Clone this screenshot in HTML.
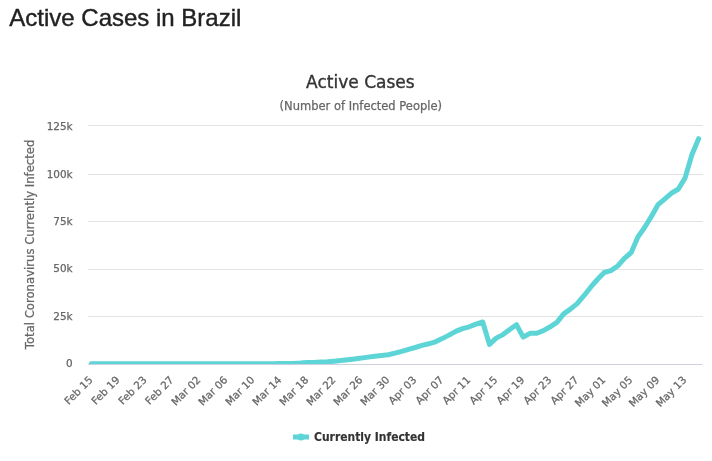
<!DOCTYPE html>
<html><head><meta charset="utf-8"><title>Active Cases in Brazil</title>
<style>
html,body{margin:0;padding:0;background:#fff;}
body{width:712px;height:461px;position:relative;overflow:hidden;font-family:"Liberation Sans",sans-serif;}
h3{position:absolute;left:9.3px;top:0.4px;margin:0;font-size:24px;line-height:36px;font-weight:normal;color:#222;white-space:nowrap;-webkit-text-stroke:0.4px #222;}
</style></head><body>
<h3>Active Cases in Brazil</h3>
<svg width="712" height="461" viewBox="0 0 712 461" style="position:absolute;left:0;top:0">
<defs><clipPath id="pc"><rect x="88" y="120" width="615" height="244"/></clipPath></defs>
<path d="M88 125.5 H703" stroke="#e3e3e3" stroke-width="1" fill="none"/>
<path d="M88 174.5 H703" stroke="#e3e3e3" stroke-width="1" fill="none"/>
<path d="M88 221.5 H703" stroke="#e3e3e3" stroke-width="1" fill="none"/>
<path d="M88 269.5 H703" stroke="#e3e3e3" stroke-width="1" fill="none"/>
<path d="M88 316.5 H703" stroke="#e3e3e3" stroke-width="1" fill="none"/>
<path d="M88 364.5 H702.5" stroke="#cbd0dc" stroke-width="1" fill="none"/>
<g clip-path="url(#pc)"><path d="M91.4 363.8 L98.1 363.8 L104.9 363.8 L111.6 363.8 L118.4 363.8 L125.1 363.8 L131.9 363.8 L138.6 363.8 L145.4 363.8 L152.1 363.8 L158.8 363.8 L165.6 363.8 L172.3 363.8 L179.1 363.8 L185.8 363.8 L192.6 363.8 L199.3 363.8 L206.1 363.8 L212.8 363.8 L219.6 363.8 L226.3 363.8 L233.1 363.8 L239.8 363.8 L246.6 363.8 L253.3 363.7 L260.1 363.7 L266.8 363.7 L273.5 363.7 L280.3 363.5 L287.0 363.4 L293.8 363.4 L300.5 363.1 L307.3 362.6 L314.0 362.6 L320.8 362.1 L327.5 361.8 L334.3 361.2 L341.0 360.5 L347.8 359.7 L354.5 358.9 L361.3 358.1 L368.0 357.1 L374.8 356.2 L381.5 355.4 L388.3 354.7 L395.0 353.1 L401.7 351.3 L408.5 349.3 L415.2 347.5 L422.0 345.4 L428.7 343.8 L435.5 341.8 L442.2 338.6 L449.0 335.1 L455.7 331.4 L462.5 328.6 L469.2 326.8 L476.0 324.1 L482.7 322.0 L489.5 344.4 L496.2 338.1 L503.0 334.6 L509.7 329.5 L516.5 324.7 L523.2 337.1 L529.9 333.3 L536.7 333.3 L543.4 330.6 L550.2 326.8 L556.9 322.4 L563.7 313.9 L570.4 309.1 L577.2 303.6 L583.9 295.7 L590.7 287.2 L597.4 279.5 L604.2 272.5 L610.9 270.6 L617.7 266.0 L624.4 258.4 L631.2 252.5 L637.9 237.0 L644.6 227.5 L651.4 216.4 L658.1 204.6 L664.9 198.9 L671.6 193.2 L678.4 189.0 L685.1 177.9 L691.9 154.7 L698.6 138.7" fill="none" stroke="#5dd5d6" stroke-width="5" stroke-linejoin="round" stroke-linecap="round"/></g>
<g font-family="'DejaVu Sans', 'Liberation Sans', sans-serif" fill="#666666" stroke="#666666" stroke-width="0.25">
<text x="72.6" y="129.7" text-anchor="end" font-size="10.45">125k</text>
<text x="72.6" y="177.7" text-anchor="end" font-size="10.45">100k</text>
<text x="72.6" y="224.6" text-anchor="end" font-size="10.45">75k</text>
<text x="72.6" y="272.2" text-anchor="end" font-size="10.45">50k</text>
<text x="72.6" y="319.8" text-anchor="end" font-size="10.45">25k</text>
<text x="72.6" y="367.4" text-anchor="end" font-size="10.45">0</text>
<text x="93.4" y="380.6" text-anchor="end" font-size="10.4" transform="rotate(-45 93.4 380.6)">Feb 15</text>
<text x="120.4" y="380.6" text-anchor="end" font-size="10.4" transform="rotate(-45 120.4 380.6)">Feb 19</text>
<text x="147.4" y="380.6" text-anchor="end" font-size="10.4" transform="rotate(-45 147.4 380.6)">Feb 23</text>
<text x="174.3" y="380.6" text-anchor="end" font-size="10.4" transform="rotate(-45 174.3 380.6)">Feb 27</text>
<text x="201.3" y="380.6" text-anchor="end" font-size="10.4" transform="rotate(-45 201.3 380.6)">Mar 02</text>
<text x="228.3" y="380.6" text-anchor="end" font-size="10.4" transform="rotate(-45 228.3 380.6)">Mar 06</text>
<text x="255.3" y="380.6" text-anchor="end" font-size="10.4" transform="rotate(-45 255.3 380.6)">Mar 10</text>
<text x="282.3" y="380.6" text-anchor="end" font-size="10.4" transform="rotate(-45 282.3 380.6)">Mar 14</text>
<text x="309.3" y="380.6" text-anchor="end" font-size="10.4" transform="rotate(-45 309.3 380.6)">Mar 18</text>
<text x="336.3" y="380.6" text-anchor="end" font-size="10.4" transform="rotate(-45 336.3 380.6)">Mar 22</text>
<text x="363.3" y="380.6" text-anchor="end" font-size="10.4" transform="rotate(-45 363.3 380.6)">Mar 26</text>
<text x="390.3" y="380.6" text-anchor="end" font-size="10.4" transform="rotate(-45 390.3 380.6)">Mar 30</text>
<text x="417.2" y="380.6" text-anchor="end" font-size="10.4" transform="rotate(-45 417.2 380.6)">Apr 03</text>
<text x="444.2" y="380.6" text-anchor="end" font-size="10.4" transform="rotate(-45 444.2 380.6)">Apr 07</text>
<text x="471.2" y="380.6" text-anchor="end" font-size="10.4" transform="rotate(-45 471.2 380.6)">Apr 11</text>
<text x="498.2" y="380.6" text-anchor="end" font-size="10.4" transform="rotate(-45 498.2 380.6)">Apr 15</text>
<text x="525.2" y="380.6" text-anchor="end" font-size="10.4" transform="rotate(-45 525.2 380.6)">Apr 19</text>
<text x="552.2" y="380.6" text-anchor="end" font-size="10.4" transform="rotate(-45 552.2 380.6)">Apr 23</text>
<text x="579.2" y="380.6" text-anchor="end" font-size="10.4" transform="rotate(-45 579.2 380.6)">Apr 27</text>
<text x="606.2" y="380.6" text-anchor="end" font-size="10.4" transform="rotate(-45 606.2 380.6)">May 01</text>
<text x="633.2" y="380.6" text-anchor="end" font-size="10.4" transform="rotate(-45 633.2 380.6)">May 05</text>
<text x="660.1" y="380.6" text-anchor="end" font-size="10.4" transform="rotate(-45 660.1 380.6)">May 09</text>
<text x="687.1" y="380.6" text-anchor="end" font-size="10.4" transform="rotate(-45 687.1 380.6)">May 13</text>
<text x="34" y="244.4" text-anchor="middle" font-size="11.7" textLength="209.6" lengthAdjust="spacingAndGlyphs" transform="rotate(-90 34 244.4)">Total Coronavirus Currently Infected</text>
<text x="360.8" y="110" text-anchor="middle" font-size="11.5">(Number of Infected People)</text>
</g>
<text x="360.4" y="88.1" text-anchor="middle" font-size="17.3" fill="#333333" stroke="#333333" stroke-width="0.35" font-family="'DejaVu Sans', 'Liberation Sans', sans-serif" textLength="108.6" lengthAdjust="spacingAndGlyphs">Active Cases</text>
<path d="M293 437 H309" stroke="#5dd5d6" stroke-width="5" fill="none"/><circle cx="300.9" cy="437" r="3.6" fill="#5dd5d6"/>
<text x="314" y="440.9" font-size="11.6" font-weight="bold" fill="#333333" stroke="#333333" stroke-width="0.15" font-family="'DejaVu Sans', 'Liberation Sans', sans-serif" textLength="111" lengthAdjust="spacingAndGlyphs">Currently Infected</text>
</svg>
</body></html>
